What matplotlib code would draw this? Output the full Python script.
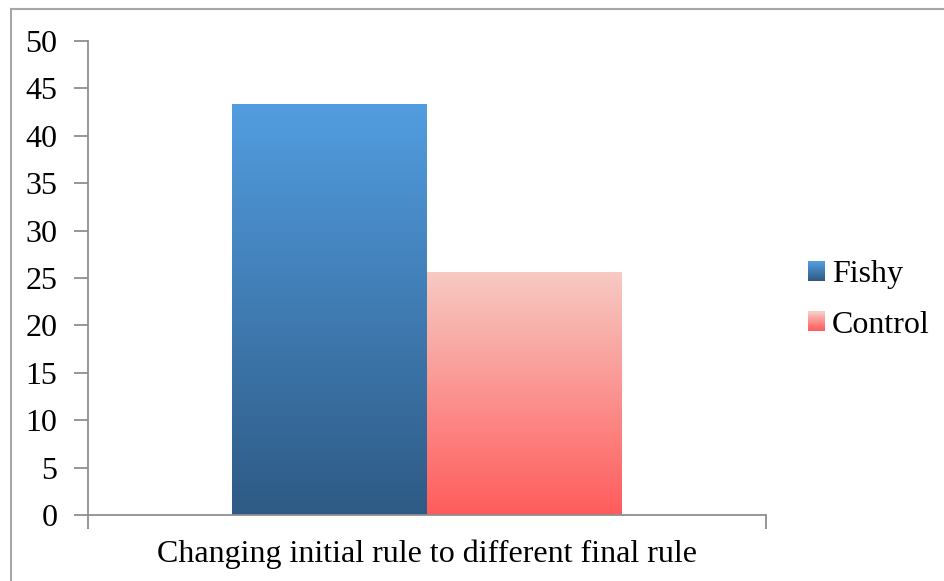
import numpy as np
import matplotlib
matplotlib.use('Agg')
import matplotlib.pyplot as plt
from matplotlib.colors import LinearSegmentedColormap
from matplotlib.lines import Line2D
from matplotlib.patches import Rectangle
from matplotlib.legend_handler import HandlerBase

category = 'Changing initial rule to different final rule'
series = ['Fishy', 'Control']
values = [43.4, 25.6]
# gradient colours, (bottom, top)
gradients = [('#2E5A85', '#529DE0'), ('#FF5C5C', '#F7CAC3')]
yticks = list(range(0, 55, 5))

plt.rcParams['font.family'] = ['Liberation Serif', 'DejaVu Serif']
fs = 23
grey = '#8f8f8f'

fig = plt.figure(figsize=(9.45, 5.81), dpi=100)
ax = fig.add_axes([88 / 945, 66 / 581, 678 / 945, 474 / 581])

width = 0.2876
offsets = [-width / 2, width / 2]
grad = np.linspace(0, 1, 256).reshape(-1, 1)
cmaps = [LinearSegmentedColormap.from_list(s, g) for s, g in zip(series, gradients)]

for off, val, cmap in zip(offsets, values, cmaps):
    bar = ax.bar(off, val, width, color='none', edgecolor='none')[0]
    img = ax.imshow(grad, cmap=cmap, origin='lower', aspect='auto',
                    extent=[off - width / 2, off + width / 2, 0, val], zorder=2)
    img.set_clip_path(bar)

ax.set_xlim(-0.5, 0.5)
ax.set_ylim(0, 50)
ax.set_yticks(yticks)
ax.set_xticks([-0.5, 0.5])
ax.set_xticklabels([])
ax.set_xlabel(category, fontsize=fs, labelpad=4)
ax.tick_params(axis='y', labelsize=fs, length=10, width=1.3, color=grey, pad=12)
ax.tick_params(axis='x', length=10, width=1.3, color=grey)
for s in ['top', 'right']:
    ax.spines[s].set_visible(False)
for s in ['left', 'bottom']:
    ax.spines[s].set_color(grey)
    ax.spines[s].set_linewidth(1.3)


class GradientHandler(HandlerBase):
    def __init__(self, cmap):
        super().__init__()
        self.cmap = cmap

    def create_artists(self, legend, orig_handle, xdescent, ydescent,
                       width, height, fontsize, trans):
        n = 20
        arts = []
        for i in range(n):
            r = Rectangle((-xdescent, -ydescent + height * i / n), width, height / n + 0.3,
                          facecolor=self.cmap(i / (n - 1)), edgecolor='none',
                          transform=trans)
            arts.append(r)
        return arts


handles = [Rectangle((0, 0), 1, 1) for _ in series]
fig.legend(handles, series, loc='center left', bbox_to_anchor=(779 / 945, 1 - 300 / 581),
           frameon=False, fontsize=fs, handlelength=0.55, handleheight=0.55,
           handletextpad=0.2, labelspacing=0.66,
           handler_map={h: GradientHandler(c) for h, c in zip(handles, cmaps)})

# chart area border
fig.add_artist(Line2D([11 / 945, 11 / 945], [0, 1 - 9 / 581], color='#a6a6a6', lw=1.5))
fig.add_artist(Line2D([11 / 945, 1], [1 - 9 / 581, 1 - 9 / 581], color='#a6a6a6', lw=1.5))

fig.savefig('out.png', dpi=100)
